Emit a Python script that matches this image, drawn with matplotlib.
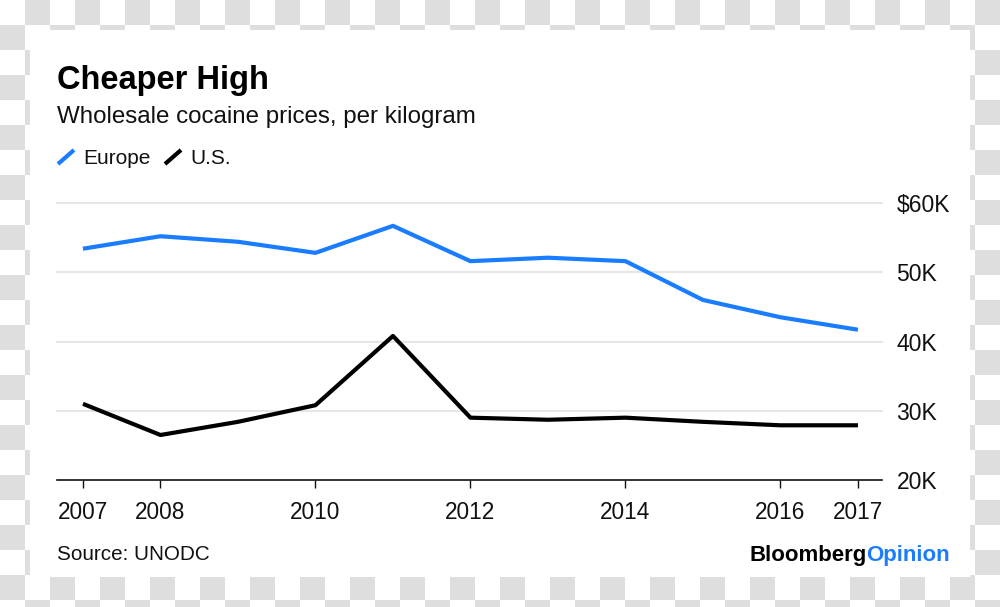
import numpy as np
import matplotlib
matplotlib.use("Agg")
import matplotlib.pyplot as plt
from matplotlib.lines import Line2D

plt.rcParams["font.family"] = ["Liberation Sans", "DejaVu Sans"]

years = [2007, 2008, 2009, 2010, 2011, 2012, 2013, 2014, 2015, 2016, 2017]
europe = [53.4, 55.2, 54.4, 52.8, 56.7, 51.6, 52.1, 51.6, 46.0, 43.5, 41.7]
us = [31.0, 26.5, 28.4, 30.8, 40.8, 29.0, 28.7, 29.0, 28.4, 27.9, 27.9]
xticks = [2007, 2008, 2010, 2012, 2014, 2016, 2017]
yticks = [20, 30, 40, 50, 60]
ytick_labels = ["20K", "30K", "40K", "50K", "$60K"]

BLUE = "#1a7cff"
BLACK = "#000000"
GRID = "#e6e6e6"

W, H = 1000, 607
fig = plt.figure(figsize=(W / 100, H / 100), dpi=100)

# checkered transparency backdrop with white card
bg = fig.add_axes([0, 0, 1, 1])
yy, xx = np.mgrid[0:H, 0:W]
checker = ((xx // 25 + yy // 25) % 2).astype(float)
img = np.where(checker[..., None] > 0, 0.871, 1.0) * np.ones((H, W, 3))
img[30:577, 30:970] = 1.0
bg.imshow(img, extent=(0, W, H, 0), interpolation="nearest", aspect="auto")
bg.set_xlim(0, W)
bg.set_ylim(H, 0)
bg.axis("off")


def fx(px):
    return px / W


def fy(py):
    return 1 - py / H


ax = fig.add_axes([fx(57), fy(480), fx(882) - fx(57), fy(203) - fy(480)])
ax.patch.set_alpha(0)
ax.plot(years, europe, color=BLUE, lw=3.0, solid_capstyle="butt", zorder=3, clip_on=False)
ax.plot(years, us, color=BLACK, lw=3.0, solid_capstyle="butt", zorder=3, clip_on=False)

ax.set_xlim(2006.665, 2017.31)
ax.set_ylim(20, 60)
for v in yticks[1:]:
    ax.axhline(v, color=GRID, lw=1.5, zorder=1, clip_on=False)

ax.set_xticks(xticks)
ax.set_xticklabels([str(x) for x in xticks])
ax.set_yticks(yticks)
ax.set_yticklabels(ytick_labels)
ax.yaxis.tick_right()
ax.tick_params(axis="y", length=0, pad=10.5, labelsize=16.5, colors="#111111")
ax.tick_params(axis="x", length=6, width=1, direction="out", pad=9, labelsize=16.3,
               colors="#111111")
for s in ("top", "right", "left"):
    ax.spines[s].set_visible(False)
ax.spines["bottom"].set_linewidth(1.2)
ax.spines["bottom"].set_color("#111111")

# titles
fig.text(fx(57), fy(80), "Cheaper High", fontsize=23.5, fontweight="bold", color=BLACK,
         ha="left", va="center")
fig.text(fx(57), fy(117), "Wholesale cocaine prices, per kilogram", fontsize=17.4,
         color="#111111", ha="left", va="center")

# legend
for x0, col, label in [(58, BLUE, "Europe"), (165, BLACK, "U.S.")]:
    fig.add_artist(Line2D([fx(x0), fx(x0 + 16)], [fy(164), fy(150)], color=col, lw=3,
                          solid_capstyle="butt"))
    fig.text(fx(x0 + 25), fy(159), label, fontsize=15, color="#111111", ha="left",
             va="center")

# footer
fig.text(fx(57), fy(555), "Source: UNODC", fontsize=14.9, color="#111111",
         ha="left", va="center")
op = fig.text(fx(950), fy(555), "Opinion", fontsize=16, fontweight="bold", color=BLUE,
              ha="right", va="center")
fig.canvas.draw()
bb = op.get_window_extent()
fig.text(bb.x0 / W, fy(555), "Bloomberg", fontsize=16, fontweight="bold", color=BLACK,
         ha="right", va="center")

fig.savefig("out.png", dpi=100)
